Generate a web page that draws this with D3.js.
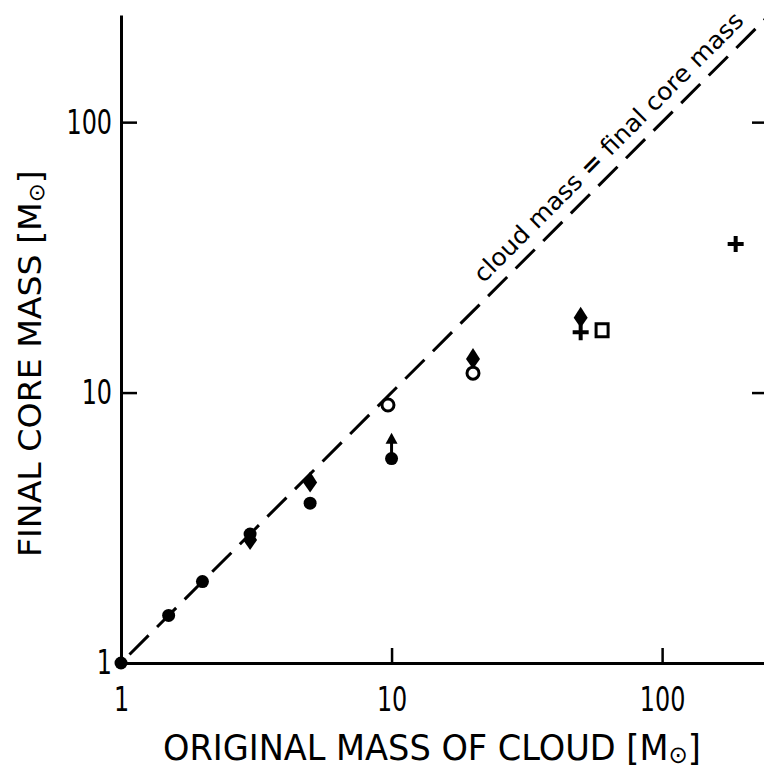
<!DOCTYPE html>
<html><head><meta charset="utf-8">
<script src="https://cdn.jsdelivr.net/npm/d3@7"></script>
<style>
html,body{margin:0;padding:0;background:#fff;}
svg{display:block;}
text{fill:#000;}
</style></head>
<body>
<svg id="chart" width="764" height="776"></svg>
<script>
// ---------------- data ----------------
const tickValues = [1, 10, 100];
const tickLabels = ["1", "10", "100"];
const xTitle = "ORIGINAL MASS OF CLOUD";
const yTitle = "FINAL CORE MASS";
const lineLabel = ["cloud mass ", "=", " final core mass"];

// filled circles
const filledCircleX = [1, 1.5, 2, 3, 5, 10];
const filledCircleY = [1, 1.5, 2, 3, 3.9, 5.7];
// filled diamonds
const diamondX = [3, 5, 20, 50];
const diamondY = [2.85, 4.65, 13.3, 18.9];
// open circles
const openCircleX = [9.7, 20];
const openCircleY = [9.0, 11.8];
// plus signs
const plusX = [50, 187];
const plusY = [16.7, 35.4];
// open squares
const squareX = [60];
const squareY = [17.0];
// lower-limit arrows (from value to arrow tip)
const arrowX = [10];
const arrowFromY = [5.7];
const arrowToY = [7.1];
// identity line range
const lineX = [1, 240];

// ---------------- layout ----------------
const svg = d3.select("#chart");
const x = d3.scaleLog().domain([1, 238]).range([121, 764]);
const y = d3.scaleLog().domain([1, 249]).range([663, 15]);
const FONT = "'Liberation Sans Narrow','DejaVu Sans Condensed','Roboto Condensed','DejaVu Sans',sans-serif";

function fitWidth(sel, target) {
  sel.each(function() {
    const w = this.getComputedTextLength();
    const t = d3.select(this);
    const ax = +t.attr("x") || 0;
    const s = target / w;
    t.attr("transform", `translate(${ax*(1-s)},0) scale(${s},1)`);
  });
}
function squeeze(sel, s) {
  sel.each(function() {
    const t = d3.select(this);
    const ax = +t.attr("x") || 0;
    t.attr("transform", `translate(${ax*(1-s)},0) scale(${s},1)`);
  });
}

// axes
const fmt = d => tickLabels[tickValues.indexOf(d)];
const gx = svg.append("g").attr("transform", `translate(0,${y(1)})`)
  .call(d3.axisBottom(x).tickValues(tickValues).tickFormat(fmt).tickSizeInner(-15).tickSizeOuter(0).tickPadding(24));
const gy = svg.append("g").attr("transform", `translate(${x(1)},0)`)
  .call(d3.axisLeft(y).tickValues(tickValues).tickFormat(fmt).tickSizeInner(-16).tickSizeOuter(0).tickPadding(9));
const gr = svg.append("g").attr("transform", `translate(766,0)`)
  .call(d3.axisRight(y).tickValues([10, 100]).tickFormat("").tickSizeInner(-14).tickSizeOuter(0));
gr.select(".domain").remove();
[gx, gy, gr].forEach(g => {
  g.selectAll(".domain").attr("stroke", "#000").attr("stroke-width", 3);
  g.selectAll(".tick line").attr("stroke", "#000").attr("stroke-width", 2.5);
  g.selectAll(".tick text").attr("font-family", FONT).attr("font-size", 34).attr("fill", "#000");
});
squeeze(gx.selectAll(".tick text"), 0.78);
squeeze(gy.selectAll(".tick text"), 0.78);
gx.selectAll(".tick").filter(d => d === 1).select("line").remove();
gy.selectAll(".tick").filter(d => d === 1).select("line").remove();

// axis titles
const xt = svg.append("text").attr("x", 163).attr("y", 760)
  .attr("font-family", FONT).attr("font-size", 35);
xt.append("tspan").text(xTitle + " [M");
xt.append("tspan").attr("font-size", 24).attr("dy", 3).text("⊙");
xt.append("tspan").attr("dy", -3).text("]");
fitWidth(xt, 538);

const ytG = svg.append("g").attr("transform", "translate(41,557) rotate(-90)");
const ytt = ytG.append("text").attr("x", 0).attr("y", 0)
  .attr("font-family", FONT).attr("font-size", 32);
ytt.append("tspan").text(yTitle + " [M");
ytt.append("tspan").attr("font-size", 22).attr("dy", 3).text("⊙");
ytt.append("tspan").attr("dy", -3).text("]");
fitWidth(ytt, 387);

// identity dashed line
svg.append("line")
  .attr("x1", x(lineX[0])).attr("y1", y(lineX[0]))
  .attr("x2", x(lineX[1])).attr("y2", y(lineX[1]))
  .attr("stroke", "#000").attr("stroke-width", 3)
  .attr("stroke-dasharray", "27,12").attr("stroke-dashoffset", 27);

// line label
const lx = x(23.5) - 8.5, ly = y(23.5) - 8.5;
const lbl = svg.append("g").attr("transform", `translate(${lx},${ly}) rotate(-45)`)
  .append("text").attr("x", 0).attr("y", 0)
  .attr("font-family", "'DejaVu Sans','Noto Sans',sans-serif").attr("font-size", 24);
lbl.append("tspan").text(lineLabel[0]);
lbl.append("tspan").attr("font-weight", "bold").text(lineLabel[1]);
lbl.append("tspan").text(lineLabel[2]);
fitWidth(lbl, 370);

// markers
const ink = "#000";
svg.append("g").selectAll("circle").data(filledCircleX.map((v,i)=>[v,filledCircleY[i]]))
  .join("circle").attr("cx", d=>x(d[0])).attr("cy", d=>y(d[1])).attr("r", 6.5).attr("fill", ink);

svg.append("g").selectAll("path").data(diamondX.map((v,i)=>[v,diamondY[i]]))
  .join("path").attr("transform", d=>`translate(${x(d[0])},${y(d[1])})`)
  .attr("d", "M0,-11 L7,0 L0,10 L-7,0 Z").attr("fill", ink);

svg.append("g").selectAll("circle").data(openCircleX.map((v,i)=>[v,openCircleY[i]]))
  .join("circle").attr("cx", d=>x(d[0])).attr("cy", d=>y(d[1])).attr("r", 6)
  .attr("fill", "#fff").attr("stroke", ink).attr("stroke-width", 3);

svg.append("g").selectAll("path").data(plusX.map((v,i)=>[v,plusY[i]]))
  .join("path").attr("transform", d=>`translate(${x(d[0])},${y(d[1])})`)
  .attr("d", "M-8,0 L8,0 M0,-8 L0,8").attr("stroke", ink).attr("stroke-width", 4).attr("fill", "none");

svg.append("g").selectAll("rect").data(squareX.map((v,i)=>[v,squareY[i]]))
  .join("rect").attr("x", d=>x(d[0])-6).attr("y", d=>y(d[1])-6.5).attr("width", 12).attr("height", 13)
  .attr("fill", "#fff").attr("stroke", ink).attr("stroke-width", 3);

const ar = svg.append("g");
arrowX.forEach((v,i) => {
  const px = x(v), y0 = y(arrowFromY[i]), y1 = y(arrowToY[i]);
  ar.append("line").attr("x1", px).attr("y1", y0).attr("x2", px).attr("y2", y1 + 8)
    .attr("stroke", ink).attr("stroke-width", 3);
  ar.append("path").attr("d", `M${px},${y1} L${px+6},${y1+11} L${px-6},${y1+11} Z`).attr("fill", ink);
});
</script>
</body></html>
